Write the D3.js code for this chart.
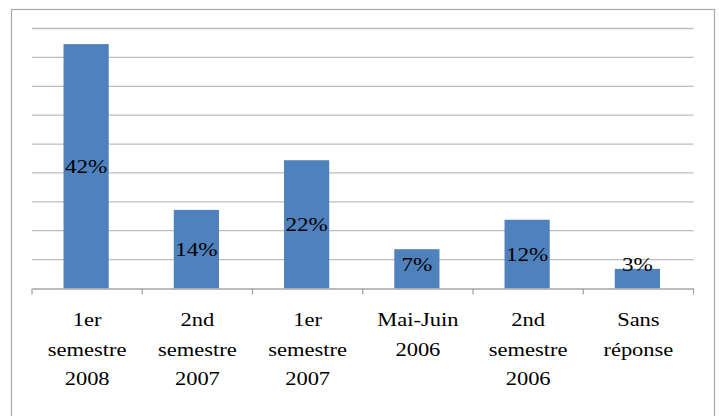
<!DOCTYPE html>
<html>
<head>
<meta charset="utf-8">
<script src="https://cdn.jsdelivr.net/npm/d3@7"></script>
<style>
  body { margin: 0; background: #fff; }
  svg { display: block; }
</style>
</head>
<body>
<svg id="chart"></svg>
<script>
// data
const categories = ["1er\nsemestre\n2008", "2nd\nsemestre\n2007", "1er\nsemestre\n2007", "Mai-Juin\n2006", "2nd\nsemestre\n2006", "Sans\nréponse"];
const values = [0.423, 0.136, 0.222, 0.068, 0.119, 0.034];
const gridValues = [0.05, 0.10, 0.15, 0.20, 0.25, 0.30, 0.35, 0.40, 0.45];

class BarChart {
    constructor(config) {
        this.config = {
            parent: config.parent,
            width: config.width || 719,
            height: config.height || 416,
            margin: config.margin || {top: 28.5, right: 25, bottom: 127.5, left: 32}
        };
        this.init();
    }

    init() {
        let self = this;
        self.svg = d3.select(self.config.parent)
            .attr('width', self.config.width)
            .attr('height', self.config.height);

        // outer frame of the chart area (runs off the bottom)
        self.svg.append('rect')
            .attr('x', 11.5).attr('y', 9.5)
            .attr('width', 703).attr('height', 430)
            .attr('fill', 'none')
            .attr('stroke', '#a9a9a9')
            .attr('stroke-width', 1.2);

        self.chart = self.svg.append('g')
            .attr('transform', `translate(${self.config.margin.left}, ${self.config.margin.top})`);

        self.inner_width = self.config.width - self.config.margin.left - self.config.margin.right - 0.5;
        self.inner_height = self.config.height - self.config.margin.top - self.config.margin.bottom;

        self.xscale = d3.scaleBand().domain(categories).range([0, self.inner_width]).padding(0);
        self.yscale = d3.scaleLinear().domain([0, 0.45]).range([self.inner_height, 0]);
    }

    render() {
        let self = this;
        const stretch = 1.25;
        const serif = "'Liberation Serif'";

        // gridlines
        self.chart.selectAll('.grid')
            .data(gridValues)
            .enter()
            .append('line')
            .attr('class', 'grid')
            .attr('x1', 0).attr('x2', self.inner_width)
            .attr('y1', d => self.yscale(d)).attr('y2', d => self.yscale(d))
            .attr('stroke', '#bdbdbd')
            .attr('stroke-width', 1.3);

        // bars
        const barW = self.xscale.bandwidth() * 0.41;
        self.chart.selectAll('.bar')
            .data(values)
            .enter()
            .append('rect')
            .attr('class', 'bar')
            .attr('x', (d, i) => self.xscale(categories[i]) + (self.xscale.bandwidth() - barW) / 2 - 1)
            .attr('y', d => self.yscale(d))
            .attr('width', barW)
            .attr('height', d => self.yscale(0) - self.yscale(d))
            .attr('fill', '#4f81bd');

        // x axis
        const xaxis = d3.axisBottom(self.xscale).tickSize(0).tickFormat('');
        const axis_group = self.chart.append('g')
            .attr('transform', `translate(0, ${self.inner_height})`)
            .call(xaxis);
        axis_group.select('.domain').attr('stroke', '#a6a6a6').attr('stroke-width', 1.3);
        // tick marks at band boundaries
        const bounds = categories.map(c => self.xscale(c)).concat([self.inner_width]);
        axis_group.selectAll('.bound')
            .data(bounds)
            .enter()
            .append('line')
            .attr('class', 'bound')
            .attr('x1', d => d).attr('x2', d => d)
            .attr('y1', 0).attr('y2', 6)
            .attr('stroke', '#a6a6a6')
            .attr('stroke-width', 1.3);

        // category labels
        const labels = axis_group.selectAll('.cat')
            .data(categories)
            .enter()
            .append('g')
            .attr('class', 'cat')
            .attr('transform', d => `translate(${self.xscale(d) + self.xscale.bandwidth() / 2}, 0) scale(${stretch}, 1)`);
        labels.append('text')
            .attr('text-anchor', 'middle')
            .style('font-family', serif)
            .style('font-size', '18px')
            .attr('fill', '#000')
            .selectAll('tspan')
            .data(d => d.split('\n'))
            .enter()
            .append('tspan')
            .attr('x', 0)
            .attr('y', (d, i) => 38 + i * 29.5)
            .text(d => d);

        // value labels
        const y0 = self.yscale(0);
        self.chart.selectAll('.val')
            .data(values)
            .enter()
            .append('g')
            .attr('class', 'val')
            .attr('transform', (d, i) => {
                const cx = self.xscale(categories[i]) + self.xscale.bandwidth() / 2 - 1;
                const cy = Math.min((self.yscale(d) + y0) / 2, y0 - 24);
                return `translate(${cx}, ${cy}) scale(${stretch}, 1)`;
            })
            .append('text')
            .attr('text-anchor', 'middle')
            .attr('dy', '0.37em')
            .style('font-family', serif)
            .style('font-size', '18.5px')
            .attr('fill', '#000')
            .text(d => d3.format('.0%')(d));
    }
}

const chart = new BarChart({parent: '#chart'});
chart.render();
</script>
</body>
</html>
